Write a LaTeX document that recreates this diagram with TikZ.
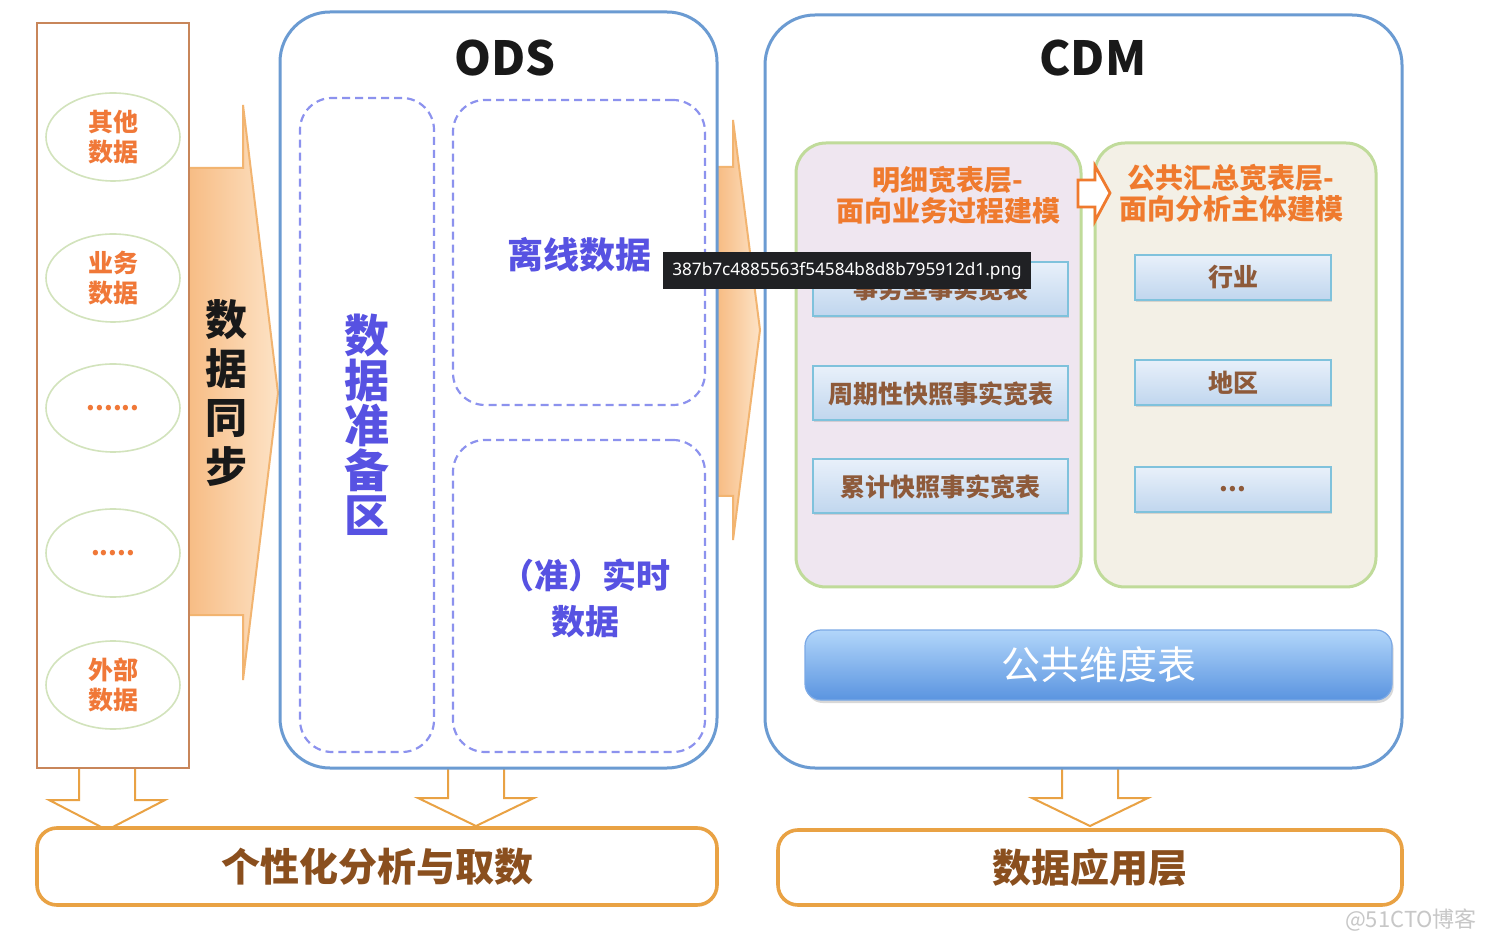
\documentclass[tikz,border=0pt]{standalone}
\usepackage{fontspec}
\setmainfont{Noto Sans CJK SC}
\newfontfamily\latinfont{Noto Sans}
\usetikzlibrary{shapes.geometric,shadows}
\definecolor{srcbrown}{HTML}{C8865A}
\definecolor{ellgreen}{HTML}{D2E3BC}
\definecolor{srcorange}{HTML}{F07838}
\definecolor{arrowline}{HTML}{F2B470}
\definecolor{arrowdark}{HTML}{F7BC84}
\definecolor{arrowlight}{HTML}{FDE3C6}
\definecolor{boxblue}{HTML}{6B9BD2}
\definecolor{dashblue}{HTML}{8C92EE}
\definecolor{odstext}{HTML}{5752E2}
\definecolor{greenline}{HTML}{C0DB9A}
\definecolor{lavfill}{HTML}{EFE6F0}
\definecolor{beigefill}{HTML}{F3F0E6}
\definecolor{titleorange}{HTML}{EF7A2E}
\definecolor{tabtop}{HTML}{E8F0FA}
\definecolor{tabbot}{HTML}{C0D6EE}
\definecolor{tabline}{HTML}{7FC2DC}
\definecolor{tabtext}{HTML}{8E5A3A}
\definecolor{dimtop}{HTML}{B2D6FA}
\definecolor{dimbot}{HTML}{5A94E0}
\definecolor{botline}{HTML}{E9A244}
\definecolor{bottext}{HTML}{8A4F1E}
\definecolor{tipbg}{HTML}{202124}
\newcommand\hollowdn[4]{%
  \filldraw[hollow] (#1-28,#2) -- (#1-28,#3) -- (#1-58,#3) -- (#1,#4) -- (#1+58,#3) -- (#1+28,#3) -- (#1+28,#2);}
\begin{document}
\begin{tikzpicture}[x=0.5pt,y=-0.5pt,
  hollow/.style={draw=botline,fill=white,line width=1pt,line join=miter},
  srcell/.style={ellipse,draw=ellgreen,line width=0.8pt,fill=white,minimum width=67pt,minimum height=44pt,inner sep=0pt,text=srcorange,font=\bfseries\fontsize{12.5}{15}\selectfont,align=center},
  bigbox/.style={draw=boxblue,line width=1.5pt,rounded corners=25pt,fill=white},
  bigtitle/.style={font=\bfseries\fontsize{23.5}{26}\selectfont,text=black!90},
  dashbox/.style={draw=dashblue,line width=1.1pt,dash pattern=on 4pt off 2.5pt,rounded corners=16pt},
  odslabel/.style={text=odstext,align=center},
  greenbox/.style={draw=greenline,line width=1.5pt,rounded corners=15pt},
  grtitle/.style={text=titleorange,align=center,font=\bfseries\fontsize{14}{15.5}\selectfont},
  tabbox/.style={draw=tabline,line width=1pt,top color=tabtop,bottom color=tabbot,text=tabtext,font=\bfseries\fontsize{12.5}{14}\selectfont,inner sep=0pt,drop shadow={opacity=0.25,shadow xshift=0.6pt,shadow yshift=-1pt}},
  botbox/.style={draw=botline,line width=1.8pt,rounded corners=10pt,fill=white,text=bottext,font=\bfseries\fontsize{19.5}{22}\selectfont,inner sep=0pt}
]
\useasboundingbox (0,0) rectangle (1492,945);
\fill[white] (0,0) rectangle (1492,945);

% hollow down arrows
\hollowdn{107}{768}{800}{830}
\hollowdn{476}{768}{798}{826}
\hollowdn{1090}{768}{798}{826}

% data sync arrow
\path[draw=arrowline,line width=1pt,left color=arrowdark,right color=arrowlight]
  (188,168) -- (243,168) -- (243,105) -- (278,393) -- (243,680) -- (243,615) -- (188,615);
\node[text=black!90,align=center,font=\bfseries\fontsize{21}{24.5}\selectfont] (sync) at (226,393) {数\\据\\同\\步};

% sources
\node[draw=srcbrown,line width=1pt,fill=white,minimum width=76pt,minimum height=372.5pt,inner sep=0pt] (src) at (113,395.5) {};
\node[srcell] (e1) at (113,137) {其他\\数据};
\node[srcell] (e2) at (113,278) {业务\\数据};
\node[srcell] (e3) at (113,408) {......};
\node[srcell] (e4) at (113,553) {.....};
\node[srcell] (e5) at (113,685) {外部\\数据};

% ODS -> CDM arrow
\path[draw=arrowline,line width=1pt,left color=arrowdark,right color=arrowlight]
  (718,167) -- (733,167) -- (733,120) -- (760,330) -- (733,540) -- (733,496) -- (718,496);

% ODS
\node[bigbox,minimum width=218.5pt,minimum height=378pt] (ods) at (498.5,390) {};
\node[bigtitle] (odst) at (505,58) {ODS};
\node[dashbox,minimum width=67pt,minimum height=327pt] (prep) at (367,425) {};
\node[dashbox,minimum width=126pt,minimum height=152.5pt] (offl) at (579,252.5) {};
\node[dashbox,minimum width=126pt,minimum height=156pt] (rt) at (579,596) {};
\node[odslabel,font=\bfseries\fontsize{22.5}{22.5}\selectfont] (prept) at (367,425) {数\\据\\准\\备\\区};
\node[odslabel,font=\bfseries\fontsize{18}{20}\selectfont] (offlt) at (579,255) {离线数据};
\node[odslabel,font=\bfseries\fontsize{17}{23}\selectfont] (rtt) at (585,598) {（准）实时\\数据};

% CDM
\node[bigbox,minimum width=318.5pt,minimum height=376.5pt] (cdm) at (1083.5,391.5) {};
\node[bigtitle] (cdmt) at (1093,58) {CDM};
\node[greenbox,fill=lavfill,minimum width=142.5pt,minimum height=222pt] (dwd) at (938.5,365) {};
\node[greenbox,fill=beigefill,minimum width=140.5pt,minimum height=222pt] (dws) at (1235.5,365) {};
\node[grtitle] (dwdt) at (948,195) {明细宽表层-\\面向业务过程建模};
\node[grtitle] (dwst) at (1231,193) {公共汇总宽表层-\\面向分析主体建模};
\filldraw[draw=titleorange,fill=white,line width=1.4pt,line join=miter]
  (1078,180) -- (1095,180) -- (1095,166) -- (1110,193) -- (1095,221) -- (1095,207) -- (1078,207) -- cycle;

\node[tabbox,minimum width=127.5pt,minimum height=27pt] (t1) at (940.5,289) {事务型事实宽表};
\node[tabbox,minimum width=127.5pt,minimum height=27pt] (t2) at (940.5,393.5) {周期性快照事实宽表};
\node[tabbox,minimum width=127.5pt,minimum height=27pt] (t3) at (940.5,486.5) {累计快照事实宽表};
\node[tabbox,minimum width=98pt,minimum height=22.5pt] (s1) at (1233,277.5) {行业};
\node[tabbox,minimum width=98pt,minimum height=22.5pt] (s2) at (1233,382.5) {地区};
\node[tabbox,minimum width=98pt,minimum height=22.5pt] (s3) at (1233,489.5) {...};

\node[rounded corners=8pt,top color=dimtop,bottom color=dimbot,draw=dimbot!80!white,line width=0.6pt,
  minimum width=293.5pt,minimum height=35pt,inner sep=0pt,text=white,font=\fontsize{19.5}{22}\selectfont,
  drop shadow={opacity=0.3,shadow xshift=0.8pt,shadow yshift=-1.5pt}] (dim) at (1098.5,665) {公共维度表};

% bottom layers
\node[botbox,minimum width=340pt,minimum height=38.5pt] (ana) at (377,866.5) {个性化分析与取数};
\node[botbox,minimum width=312pt,minimum height=37.5pt] (app) at (1090,867.5) {数据应用层};

% tooltip overlay
\node[fill=tipbg,text=white,minimum width=184pt,minimum height=18.5pt,inner sep=0pt,font=\latinfont\fontsize{8.6}{10}\selectfont] (tip) at (847,270.5) {387b7c4885563f54584b8d8b795912d1.png};

% watermark
\node[text=black!22,font=\fontsize{11}{12}\selectfont] (wm) at (1411,920) {@51CTO博客};
\end{tikzpicture}
\end{document}
